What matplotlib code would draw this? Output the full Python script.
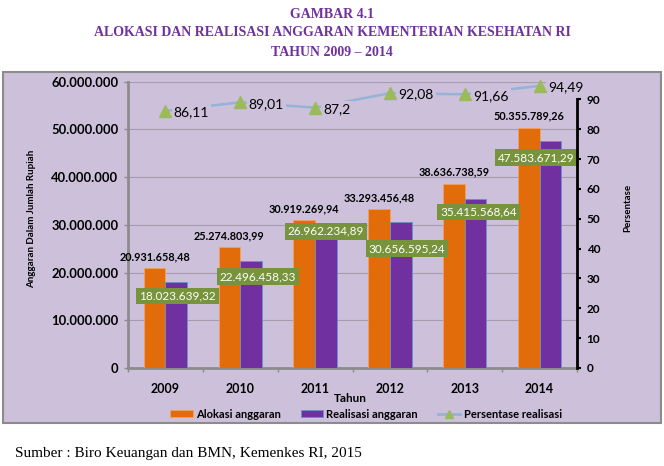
import matplotlib
matplotlib.use("Agg")
import matplotlib.pyplot as plt
from matplotlib.patches import Rectangle
from matplotlib.ticker import FuncFormatter
import numpy as np

# data
years = ["2009", "2010", "2011", "2012", "2013", "2014"]
alokasi = [20931658.48, 25274803.99, 30919269.94, 33293456.48, 38636738.59, 50355789.26]
realisasi = [18023639.32, 22496458.33, 26962234.89, 30656595.24, 35415568.64, 47583671.29]
persen = [86.11, 89.01, 87.2, 92.08, 91.66, 94.49]
alokasi_txt = ["20.931.658,48", "25.274.803,99", "30.919.269,94", "33.293.456,48", "38.636.738,59", "50.355.789,26"]
realisasi_txt = ["18.023.639,32", "22.496.458,33", "26.962.234,89", "30.656.595,24", "35.415.568,64", "47.583.671,29"]
persen_txt = ["86,11", "89,01", "87,2", "92,08", "91,66", "94,49"]

# label nudges (px) for the green realisation labels
real_dx = [1, 7, 0, 6, 3, -14]
real_dy = [-14, -16, 8, -27, -13, -17]

c_orange = "#E36C0A"
c_purple = "#7030A0"
c_green_box = "#77933C"
c_line = "#95B3D7"
c_marker = "#9BBB59"
c_bg = "#CCC0DA"
title_col = "#7030A0"

plt.rcParams["font.family"] = ["Lato", "DejaVu Sans"]

fig = plt.figure(figsize=(6.64, 4.66), dpi=100)
W, H = 664, 466

# chart area box
fig.add_artist(Rectangle((3 / W, 1 - 423 / H), 658 / W, 351 / H, transform=fig.transFigure,
                         facecolor=c_bg, edgecolor="#8c8c8c", lw=1.5, zorder=-10))

# titles
for txt, y in [("GAMBAR 4.1", 14), ("ALOKASI DAN REALISASI ANGGARAN KEMENTERIAN KESEHATAN RI", 33),
               ("TAHUN 2009 \u2013 2014", 52)]:
    fig.text(0.5, 1 - y / H, txt, ha="center", va="center", color=title_col, fontsize=10,
             fontweight="bold", family="Liberation Serif")

fig.text(15 / W, 1 - 454 / H, "Sumber : Biro Keuangan dan BMN, Kemenkes RI, 2015", ha="left", va="center",
         fontsize=11, family="Liberation Serif")

ax = fig.add_axes([128 / W, 1 - 368 / H, 449 / W, 286.3 / H])
ax.set_facecolor("none")
x = np.arange(len(years))
bw = 0.29
b1 = ax.bar(x - bw / 2, alokasi, bw, color=c_orange, edgecolor="#F4A060", lw=0.6, zorder=3,
            label="Alokasi anggaran")
b2 = ax.bar(x + bw / 2, realisasi, bw, color=c_purple, edgecolor="#6F8FC8", lw=0.6, zorder=3,
            label="Realisasi anggaran")

ax.set_xlim(-0.5, 5.5)
ax.set_ylim(0, 60000000)
ax.set_yticks(np.arange(0, 60000001, 10000000))
ax.yaxis.set_major_formatter(FuncFormatter(lambda v, p: f"{int(v):,}".replace(",", ".")))
ax.grid(axis="y", color="#A59CB0", lw=0.8, zorder=1)
ax.set_axisbelow(True)
ax.set_xticks(x)
ax.set_xticklabels(years, fontsize=9, fontweight="bold")
ax.set_xticks(np.arange(-0.5, 5.6, 1), minor=True)
ax.tick_params(axis="x", which="major", length=0, pad=11)
ax.tick_params(axis="x", which="minor", length=3, color="#8c8c8c", width=1)
ax.tick_params(axis="y", length=3, color="#8c8c8c", width=1, labelsize=9.4, pad=4)
for lab in ax.get_yticklabels():
    lab.set_fontweight("bold")
for s in ["top", "right"]:
    ax.spines[s].set_visible(False)
ax.spines["left"].set_color("#8c8c8c")
ax.spines["left"].set_linewidth(2)
ax.spines["bottom"].set_color("#8c8c8c")
ax.spines["bottom"].set_linewidth(2)
ax.set_ylabel("Anggaran Dalam Jumlah Rupiah", fontsize=7, fontweight="bold")
ax.yaxis.set_label_coords(-92 / 449, 0.52)

fig.text(350 / W, 1 - 398 / H, "Tahun", ha="center", va="center", fontsize=8.5, fontweight="bold")

for i in range(len(years)):
    ax.annotate(alokasi_txt[i], (x[i] - bw / 2, alokasi[i]), xytext=(0, 8.3), textcoords="offset points",
                ha="center", va="center", fontsize=7.8, fontweight="bold", zorder=5)
    ax.annotate(realisasi_txt[i], (x[i] + bw / 2, realisasi[i]),
                xytext=(real_dx[i] * 0.72, real_dy[i] * 0.72), textcoords="offset points",
                ha="center", va="center", fontsize=8.5, color="white", zorder=6,
                bbox=dict(boxstyle="square,pad=0.25", facecolor=c_green_box, edgecolor="none"))

ax2 = ax.twinx()
ax2.set_ylim(0, 95.9)
ax2.set_yticks(np.arange(0, 91, 10))
ax2.tick_params(axis="y", length=3, color="black", width=1.5, labelsize=8.5, pad=4)
for lab in ax2.get_yticklabels():
    lab.set_fontweight("bold")
for s in ["top", "left", "bottom"]:
    ax2.spines[s].set_visible(False)
ax2.spines["right"].set_color("black")
ax2.spines["right"].set_linewidth(2)
ax2.spines["right"].set_bounds(0, 90)
ax2.set_ylabel("Persentase", fontsize=7, fontweight="bold", rotation=90)
ax2.yaxis.set_label_coords(1 + 46 / 449, 0.56)

ax2.plot(x, persen, color=c_line, lw=1.8, zorder=2, clip_on=False)
ax2.plot(x, persen, ls="none", marker="^", ms=8, color=c_marker, zorder=8, clip_on=False)
for i in range(len(years)):
    ax2.annotate(persen_txt[i], (x[i], persen[i]), xytext=(6, -1), textcoords="offset points",
                 ha="left", va="center", fontsize=10, zorder=7, annotation_clip=False,
                 bbox=dict(boxstyle="square,pad=0.15", facecolor=c_bg, edgecolor="none"))

line_handle = plt.Line2D([], [], color=c_line, lw=2, marker="^", ms=6, markerfacecolor=c_marker,
                         markeredgecolor=c_marker)
leg = fig.legend([b1, b2, line_handle], ["Alokasi anggaran", "Realisasi anggaran", "Persentase realisasi"],
                 loc="center", bbox_to_anchor=(366 / W, 1 - 414 / H), ncol=3, frameon=False,
                 prop={"size": 8, "weight": "bold"}, handlelength=2.0, handleheight=0.6,
                 handletextpad=0.3, columnspacing=1.8)

fig.savefig("out.png", dpi=100)
